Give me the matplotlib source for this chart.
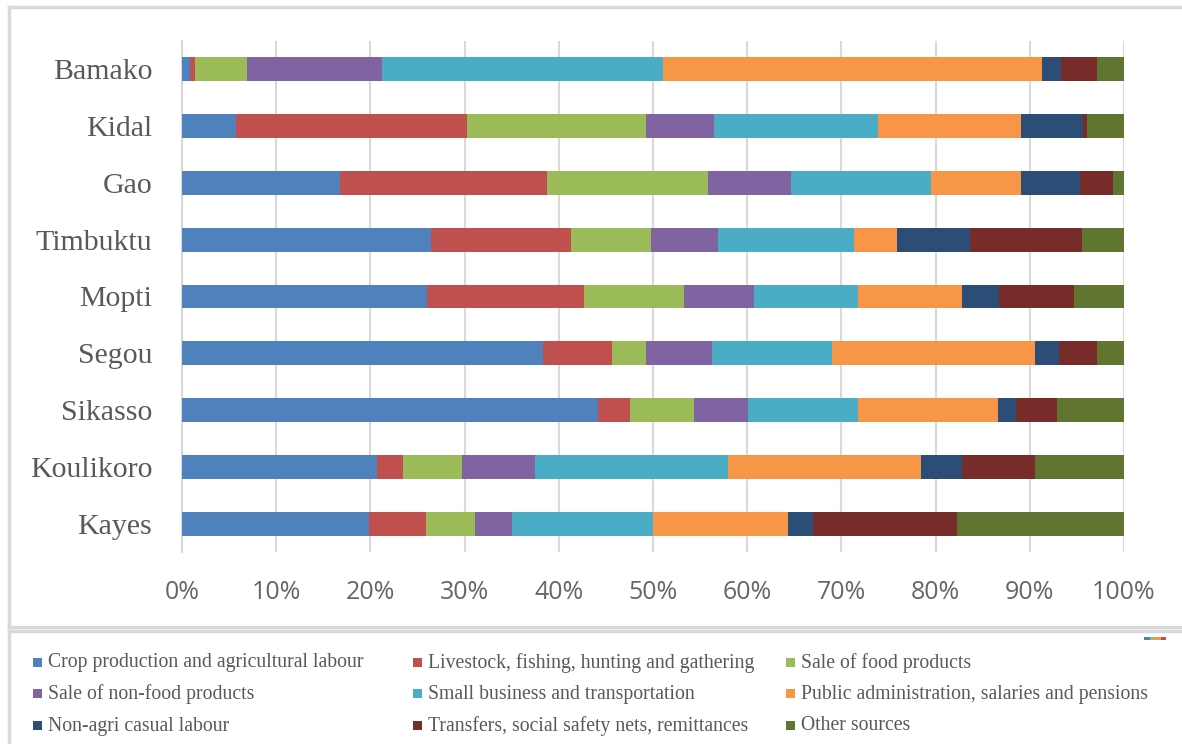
import matplotlib.pyplot as plt
import numpy as np
from matplotlib.lines import Line2D
from matplotlib.patches import Rectangle

# Share of household income by source (%), one list per source
regions = ["Bamako", "Kidal", "Gao", "Timbuktu", "Mopti",
           "Segou", "Sikasso", "Koulikoro", "Kayes"]
crop = [0.8, 5.7, 16.8, 26.4, 26.0, 38.3, 44.2, 20.7, 19.9]
livestock = [0.6, 24.6, 21.9, 14.9, 16.7, 7.3, 3.4, 2.8, 6.0]
food = [5.5, 19.0, 17.1, 8.5, 10.6, 3.7, 6.7, 6.2, 5.2]
nonfood = [14.3, 7.2, 8.8, 7.1, 7.4, 7.0, 5.8, 7.8, 3.9]
small_business = [29.9, 17.4, 14.9, 14.4, 11.1, 12.7, 11.7, 20.5, 15.0]
public_admin = [40.2, 15.2, 9.6, 4.6, 11.0, 21.6, 14.8, 20.4, 14.3]
nonagri = [2.0, 6.6, 6.2, 7.7, 3.9, 2.5, 1.9, 4.4, 2.7]
transfers = [3.8, 0.4, 3.5, 11.9, 8.0, 4.0, 4.4, 7.7, 15.3]
other = [2.9, 3.9, 1.2, 4.5, 5.3, 2.9, 7.1, 9.5, 17.7]

sources = [
    ("Crop production and agricultural labour", crop, "#4F81BD"),
    ("Livestock, fishing, hunting and gathering", livestock, "#C0504D"),
    ("Sale of food products", food, "#9BBB59"),
    ("Sale of non-food products", nonfood, "#8064A2"),
    ("Small business and transportation", small_business, "#4BACC6"),
    ("Public administration, salaries and pensions", public_admin, "#F79646"),
    ("Non-agri casual labour", nonagri, "#2C4D75"),
    ("Transfers, social safety nets, remittances", transfers, "#772C2A"),
    ("Other sources", other, "#5F7530"),
]

W, H = 1182, 744
SERIF = "Liberation Serif"
GREY = "#595959"
RULE = "#D9D9D9"


def fx(x):
    return x / W


def fy(y):
    return 1 - y / H


fig = plt.figure(figsize=(W / 100, H / 100), dpi=100)
ax = fig.add_axes([fx(182), fy(552), (1124 - 182) / W, (552 - 41) / H])

ypos = np.arange(len(regions))
left = np.zeros(len(regions))
for name, vals, color in sources:
    ax.barh(ypos, vals, left=left, height=0.42, color=color, label=name,
            zorder=3)
    left += np.array(vals)

ax.set_xlim(0, 100)
ax.set_ylim(len(regions) - 0.5, -0.5)
ax.set_xticks(np.arange(0, 101, 10))
ax.set_xticklabels([f"{t}%" for t in range(0, 101, 10)],
                   fontfamily="Open Sans", fontsize=18, color="#666666")
ax.set_yticks(ypos)
ax.set_yticklabels(regions, fontfamily=SERIF, fontsize=21.5, color=GREY)
ax.tick_params(axis="both", length=0)
ax.tick_params(axis="y", pad=21.5)
ax.tick_params(axis="x", pad=20)
ax.grid(axis="x", color=RULE, linewidth=1.5, zorder=0)
for side in ("top", "right", "bottom"):
    ax.spines[side].set_visible(False)
ax.spines["left"].set_color(RULE)
ax.spines["left"].set_linewidth(1.5)

# chart and legend frames
frame_kw = dict(color=RULE, linewidth=2.5, transform=fig.transFigure)
fig.add_artist(Line2D([fx(9), 1], [fy(7), fy(7)], **frame_kw))
fig.add_artist(Line2D([fx(9), fx(9)], [fy(7), fy(627)], **frame_kw))
fig.add_artist(Line2D([fx(9), 1], [fy(627), fy(627)], **frame_kw))
fig.add_artist(Line2D([fx(9), 1], [fy(631), fy(631)], **frame_kw))
fig.add_artist(Line2D([fx(9), fx(9)], [fy(631), 0], **frame_kw))

# legend, three rows by three columns
col_x = [33, 413, 786]
row_y = [663, 694, 726]
for i, (name, vals, color) in enumerate(sources):
    cx = col_x[i % 3]
    cy = row_y[i // 3]
    fig.add_artist(Rectangle((fx(cx), fy(cy + 4)), 9 / W, 9 / H,
                             facecolor=color, edgecolor="none",
                             transform=fig.transFigure))
    fig.text(fx(cx + 15), fy(cy), name, fontfamily=SERIF, fontsize=14.2,
             color=GREY, va="center", ha="left")

# small thumbnail strip in the legend corner
for k, c in enumerate(["#4F81BD", "#9BBB59", "#F79646", "#C0504D"]):
    fig.add_artist(Rectangle((fx(1144 + 5.5 * k), fy(640)), 5.5 / W, 3 / H,
                             facecolor=c, edgecolor="none",
                             transform=fig.transFigure))

fig.savefig("out.png", dpi=100)
